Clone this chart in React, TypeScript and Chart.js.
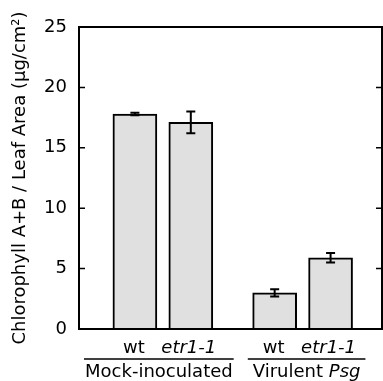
import React, { useEffect, useRef } from "react";
import { Chart, registerables } from "chart.js";

Chart.register(...registerables);

const barLabels = ["wt", "etr1-1", "wt", "etr1-1"];
const barItalic = [false, true, false, true];
const barPositions = [2, 4, 7, 9];
const barValues = [17.8, 17.1, 3.0, 5.9];
const barErrors = [0.1, 0.9, 0.3, 0.4];
const groupNames = ["Mock-inoculated", "Virulent "];
const groupItalicSuffix = ["", "Psg"];
const groupMembers = [[0, 1], [2, 3]];
const yTicks = [0, 5, 10, 15, 20, 25];
const yTitle = "Chlorophyll A+B / Leaf Area (µg/cm²)";

const FONT = "'DejaVu Sans', sans-serif";

const overlay = {
  id: "overlay",
  afterDatasetsDraw(chart: any) {
    const { ctx, chartArea, scales } = chart;
    const xs = scales.x;
    const ys = scales.y;
    ctx.save();
    // error bars
    ctx.strokeStyle = "#000";
    ctx.lineWidth = 2;
    barValues.forEach((v, i) => {
      const x = xs.getPixelForValue(barPositions[i]);
      const yHi = ys.getPixelForValue(v + barErrors[i]);
      const yLo = ys.getPixelForValue(v - barErrors[i]);
      ctx.beginPath();
      ctx.moveTo(x, yHi);
      ctx.lineTo(x, yLo);
      ctx.moveTo(x - 4.5, yHi);
      ctx.lineTo(x + 4.5, yHi);
      ctx.moveTo(x - 4.5, yLo);
      ctx.lineTo(x + 4.5, yLo);
      ctx.stroke();
    });
    // frame
    const { left, right, top, bottom } = chartArea;
    ctx.lineWidth = 2;
    ctx.strokeRect(left, top, right - left, bottom - top);
    // inward ticks
    ctx.lineWidth = 1.5;
    yTicks.forEach((t) => {
      const y = ys.getPixelForValue(t);
      ctx.beginPath();
      ctx.moveTo(left, y);
      ctx.lineTo(left + 6, y);
      ctx.moveTo(right, y);
      ctx.lineTo(right - 6, y);
      ctx.stroke();
    });
    // bar labels
    ctx.fillStyle = "#000";
    ctx.textAlign = "center";
    ctx.textBaseline = "alphabetic";
    barLabels.forEach((lab, i) => {
      ctx.font = (barItalic[i] ? "italic " : "") + "18px " + FONT;
      const x = xs.getPixelForValue(barPositions[i]) - (barItalic[i] ? 2 : 1);
      ctx.fillText(lab, x, bottom + 24);
    });
    // groups
    groupNames.forEach((name, g) => {
      const [a, b] = groupMembers[g];
      const cx = (xs.getPixelForValue(barPositions[a]) + xs.getPixelForValue(barPositions[b])) / 2 + (g === 0 ? -4 : 4);
      ctx.font = "18px " + FONT;
      const w1 = ctx.measureText(name).width;
      ctx.font = "italic 18px " + FONT;
      const w2 = ctx.measureText(groupItalicSuffix[g]).width;
      const w = w1 + w2;
      const lineW = w + (g === 0 ? 2 : 10);
      ctx.lineWidth = 1.5;
      ctx.beginPath();
      ctx.moveTo(cx - lineW / 2, bottom + 30);
      ctx.lineTo(cx + lineW / 2, bottom + 30);
      ctx.stroke();
      ctx.textAlign = "left";
      ctx.font = "18px " + FONT;
      ctx.fillText(name, cx - w / 2, bottom + 48);
      ctx.font = "italic 18px " + FONT;
      ctx.fillText(groupItalicSuffix[g], cx - w / 2 + w1, bottom + 48);
      ctx.textAlign = "center";
    });
    ctx.restore();
  },
};

export default function App() {
  const ref = useRef<HTMLCanvasElement>(null);
  useEffect(() => {
    document.body.style.margin = "0";
    const canvas = ref.current!;
    const chart = new Chart(canvas, {
      type: "bar",
      data: {
        datasets: [
          {
            data: barValues.map((v, i) => ({ x: barPositions[i], y: v })),
            backgroundColor: "#e0e0e0",
            borderColor: "#000",
            borderWidth: 2,
            borderSkipped: "bottom",
            barThickness: 44,
          },
        ],
      },
      options: {
        responsive: false,
        animation: false,
        layout: { padding: { top: 27, right: 1, bottom: 52, left: 0 } },
        plugins: { legend: { display: false }, tooltip: { enabled: false } },
        scales: {
          x: {
            type: "linear",
            min: 0,
            max: 10.84,
            offset: false,
            display: false,
          },
          y: {
            min: 0,
            max: 25,
            afterFit: (s: any) => {
              s.width = 79;
            },
            afterBuildTicks: (s: any) => {
              s.ticks = yTicks.map((v) => ({ value: v }));
            },
            grid: { display: false, drawTicks: false },
            border: { display: false },
            ticks: {
              color: "#000",
              font: { family: FONT, size: 18 },
              padding: 12,
            },
            title: {
              display: true,
              text: yTitle,
              color: "#000",
              font: { family: FONT, size: 18 },
              padding: { top: 10, bottom: 0 },
            },
          },
        },
      },
      plugins: [overlay],
    });
    return () => chart.destroy();
  }, []);
  return <canvas ref={ref} width={383} height={381} style={{ display: "block" }} />;
}
